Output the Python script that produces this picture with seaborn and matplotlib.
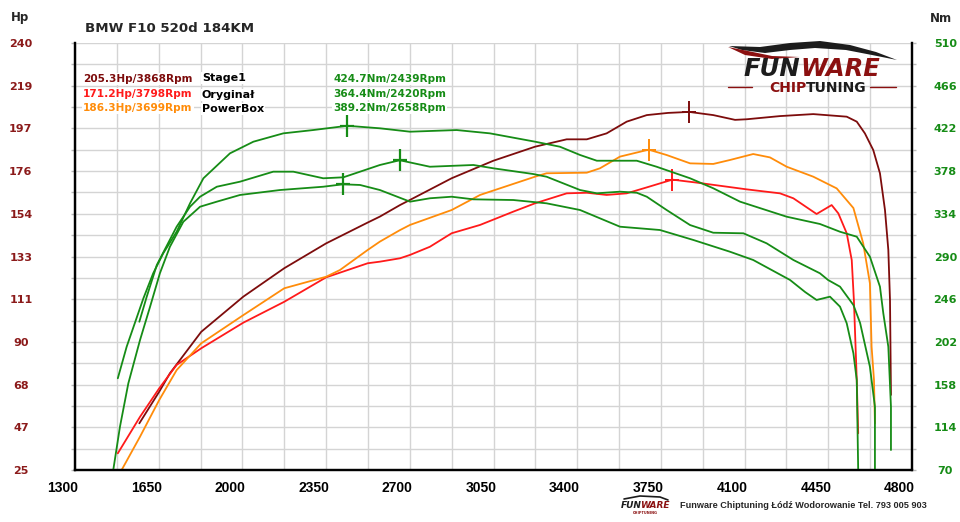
import matplotlib
matplotlib.use("Agg")
import matplotlib.pyplot as plt
import matplotlib.transforms as mtransforms
from matplotlib import font_manager
from matplotlib.path import Path
from matplotlib.patches import Polygon
import seaborn as sns

# ---- values (rpm / Hp / Nm) ----
s1_hp_rpm = [1569, 1652, 1697, 1828, 2004, 2175, 2350, 2524, 2575, 2659, 2701, 2875, 3049, 3224,
             3356, 3440, 3523, 3607, 3691, 3780, 3868, 3969, 4060, 4109, 4248, 4387, 4527, 4569,
             4603, 4638, 4666, 4687, 4701, 4708, 4712]
s1_hp = [48.5, 64.4, 73.7, 94.6, 112.3, 126.6, 139.1, 149.6, 152.6, 158.4, 161.0, 171.9, 180.7, 187.8,
         191.5, 191.5, 194.5, 200.4, 203.7, 204.8, 205.3, 203.7, 201.3, 201.6, 203.2, 204.2, 202.9, 200.4,
         194.5, 186.1, 174.4, 155.9, 135.8, 110.6, 62.8]

org_hp_rpm = [1479, 1572, 1652, 1725, 1828, 2004, 2175, 2350, 2524, 2575, 2659, 2701, 2784, 2875,
              2994, 3133, 3224, 3356, 3440, 3523, 3607, 3691, 3798, 3900, 4109, 4248, 4304, 4401,
              4464, 4492, 4527, 4548, 4557, 4569, 4575]
org_hp = [33.4, 51.8, 66.1, 77.9, 86.3, 99.2, 109.7, 122.0, 129.1, 129.9, 131.6, 133.3, 137.4, 144.2,
          148.4, 155.1, 159.3, 164.3, 164.6, 163.5, 164.3, 167.3, 171.2, 169.7, 166.3, 164.3, 161.8, 153.9,
          158.4, 154.2, 144.2, 130.7, 110.6, 70.3, 43.5]

pb_hp_rpm = [1495, 1572, 1652, 1725, 1828, 2004, 2175, 2350, 2408, 2524, 2575, 2659, 2701, 2875,
             2994, 3224, 3272, 3440, 3495, 3579, 3699, 3774, 3872, 3969, 4039, 4136, 4206, 4276,
             4387, 4485, 4555, 4596, 4624, 4631, 4641, 4645]
pb_hp = [25.0, 41.8, 60.2, 75.3, 88.8, 103.0, 116.5, 122.3, 125.7, 135.8, 140.0, 145.8, 148.4, 155.9,
         163.5, 172.7, 174.4, 174.7, 176.9, 182.8, 186.3, 183.6, 179.4, 179.1, 181.1, 184.1, 182.4, 177.7,
         172.7, 166.8, 156.9, 139.1, 119.0, 87.1, 70.3, 48.5]

s1_nm_rpm = [1479, 1516, 1586, 1627, 1669, 1725, 1781, 1837, 1948, 2046, 2171, 2296, 2439, 2575,
             2701, 2896, 3035, 3224, 3328, 3412, 3482, 3649, 3732, 3872, 3969, 4081, 4276, 4415,
             4499, 4569, 4624, 4666, 4680, 4701, 4712, 4712]
s1_nm = [164.5, 197.0, 246.9, 272.7, 293.3, 315.5, 344.8, 370.6, 396.3, 408.3, 416.9, 420.3, 424.7, 422.1,
         418.6, 420.3, 416.9, 408.3, 403.1, 394.6, 388.7, 388.7, 382.5, 370.6, 360.3, 346.5, 331.0, 323.5,
         315.5, 310.4, 289.8, 258.9, 231.5, 197.0, 135.2, 90.6]

org_nm_rpm = [1460, 1488, 1523, 1572, 1614, 1655, 1697, 1753, 1823, 1893, 1990, 2157, 2338, 2420,
              2492, 2575, 2701, 2784, 2875, 2966, 3133, 3272, 3412, 3579, 3746, 3886, 4039, 4136,
              4290, 4353, 4401, 4457, 4499, 4527, 4555, 4569, 4575]
org_nm = [70.0, 114.6, 159.3, 204.0, 238.3, 272.7, 300.1, 325.8, 341.3, 346.5, 353.4, 358.5, 361.9, 364.4,
          363.7, 358.5, 346.5, 350.0, 351.6, 348.9, 348.2, 344.8, 337.9, 320.7, 317.3, 307.0, 294.9, 286.4,
          265.8, 253.4, 245.2, 248.6, 238.3, 221.2, 190.2, 162.7, 70.0]

pb_nm_rpm = [1569, 1600, 1642, 1725, 1781, 1823, 1893, 1990, 2129, 2213, 2338, 2422, 2492, 2575,
             2658, 2784, 2966, 3049, 3216, 3272, 3412, 3482, 3579, 3649, 3691, 3774, 3872, 3969,
             4095, 4192, 4304, 4415, 4449, 4499, 4555, 4583, 4624, 4645, 4645]
pb_nm = [222.8, 248.6, 281.2, 320.7, 341.3, 351.6, 361.9, 367.1, 377.4, 377.4, 370.6, 371.6, 377.4, 384.3,
         389.2, 382.5, 384.3, 380.9, 375.0, 372.2, 358.5, 355.1, 356.8, 355.7, 351.6, 337.9, 322.4, 314.5,
         313.9, 303.6, 286.4, 272.7, 265.8, 258.9, 240.0, 221.5, 176.4, 135.2, 70.0]

# peaks shown with crosses and in the legend block
peak_names = ["Stage1", "Oryginał", "PowerBox"]
peak_hp = [205.3, 171.2, 186.3]
peak_hp_rpm = [3868, 3798, 3699]
peak_nm = [424.7, 364.4, 389.2]
peak_nm_rpm = [2439, 2420, 2658]

x_ticks = list(range(1300, 4801, 350))
hp_tick_labels = ["25", "47", "68", "90", "111", "133", "154", "176", "197", "219", "240"]
nm_tick_labels = ["70", "114", "158", "202", "246", "290", "334", "378", "422", "466", "510"]

DARK_RED = "#7d0c0c"
RED = "#ff1a1a"
ORANGE = "#ff8c0a"
GREEN = "#168c16"
HP_LBL = "#8b1a1a"
LOGO_RED = "#8b1010"
LOGO_BLK = "#1c1c1c"

sns.set_style("white")
plt.rcParams["font.family"] = ["DejaVu Sans"]
names = {f.name for f in font_manager.fontManager.ttflist}
narrow = "Liberation Sans Narrow" if "Liberation Sans Narrow" in names else "Liberation Sans"

W, H = 960, 522
fig = plt.figure(figsize=(W / 100, H / 100), dpi=100)


def fx(x):
    return x / W


def fy(y):
    return 1 - y / H


ax = fig.add_axes([fx(75), fy(470), (912 - 75) / W, (470 - 43) / H])
ax2 = ax.twinx()

ax.set_xlim(1300, 4800)
ax.set_ylim(25, 240)
ax2.set_ylim(70, 510)

ax.set_xticks(x_ticks)
ax.set_xticks(list(range(1475, 4800, 350)), minor=True)
ax.set_yticks([25 + 21.5 * i for i in range(11)])
ax.set_yticks([25 + 10.75 * i for i in range(1, 20, 2)], minor=True)
ax.set_yticklabels(hp_tick_labels)
ax2.set_yticks([70 + 44 * i for i in range(11)])
ax2.set_yticks([70 + 22 * i for i in range(1, 20, 2)], minor=True)
ax2.set_yticklabels(nm_tick_labels)

ax.grid(True, which="both", color="#d4d4d4", lw=1.0)
ax.set_axisbelow(True)
ax2.grid(False)

for a in (ax, ax2):
    a.spines["top"].set_visible(False)
    for s in ("left", "right", "bottom"):
        a.spines[s].set_color("black")
        a.spines[s].set_linewidth(1.6)

ax.tick_params(axis="x", which="both", direction="out", length=4, width=1, color="#888888",
               pad=4, labelsize=10, labelcolor="black")
ax.tick_params(axis="y", which="both", direction="out", length=3, width=1, color="#bbbbbb",
               pad=36, labelsize=8, labelcolor=HP_LBL)
ax2.tick_params(axis="y", which="both", direction="out", length=3, width=1, color="#bbbbbb",
                pad=21, labelsize=8, labelcolor=GREEN)
shift = mtransforms.ScaledTranslation(-9 / 72, 0, fig.dpi_scale_trans)
for lab in ax.get_xticklabels():
    lab.set_fontfamily(narrow)
    lab.set_fontweight("bold")
    lab.set_transform(lab.get_transform() + shift)
for lab in ax.get_yticklabels() + ax2.get_yticklabels():
    lab.set_fontweight("bold")
    lab.set_horizontalalignment("center")

# torque curves (right axis) and power curves (left axis)
lw = 1.3
sns.lineplot(x=s1_nm_rpm, y=s1_nm, ax=ax2, color=GREEN, lw=lw, estimator=None, sort=False)
sns.lineplot(x=org_nm_rpm, y=org_nm, ax=ax2, color=GREEN, lw=lw, estimator=None, sort=False)
sns.lineplot(x=pb_nm_rpm, y=pb_nm, ax=ax2, color=GREEN, lw=lw, estimator=None, sort=False)
sns.lineplot(x=s1_hp_rpm, y=s1_hp, ax=ax, color=DARK_RED, lw=lw, estimator=None, sort=False)
sns.lineplot(x=org_hp_rpm, y=org_hp, ax=ax, color=RED, lw=lw, estimator=None, sort=False)
sns.lineplot(x=pb_hp_rpm, y=pb_hp, ax=ax, color=ORANGE, lw=lw, estimator=None, sort=False)
ax.set_xlabel("")
ax.set_ylabel("")
ax2.set_ylabel("")

# peak crosses
cross = Path([(-0.65, 0), (0.65, 0), (0, -1), (0, 1)],
             [Path.MOVETO, Path.LINETO, Path.MOVETO, Path.LINETO])
for r, v, c in zip(peak_hp_rpm, peak_hp, [DARK_RED, RED, ORANGE]):
    ax.plot([r], [v], marker=cross, markersize=16, markeredgewidth=1.4, color=c, zorder=5)
for r, v in zip(peak_nm_rpm, peak_nm):
    ax2.plot([r], [v], marker=cross, markersize=16, markeredgewidth=1.6, color=GREEN, zorder=5)

# legend block
box = dict(facecolor="white", edgecolor="none", pad=1.0)
hp_cols = [DARK_RED, RED, ORANGE]
rows_y = [79, 94, 108]
name_y = [78, 95, 109]
for i in range(3):
    fig.text(fx(83), fy(rows_y[i]), f"{peak_hp[i]}Hp/{peak_hp_rpm[i]}Rpm", color=hp_cols[i],
             fontsize=7.6, fontweight="bold", va="center", ha="left", bbox=box)
    fig.text(fx(202), fy(name_y[i]), peak_names[i], color="black",
             fontsize=8, fontweight="bold", va="center", ha="left", bbox=box)
    fig.text(fx(333), fy(rows_y[i]), f"{peak_nm[i]}Nm/{peak_nm_rpm[i]}Rpm", color=GREEN,
             fontsize=7.6, fontweight="bold", va="center", ha="left", bbox=box)

fig.text(fx(85), fy(28), "BMW F10 520d 184KM", fontsize=9.6, fontweight="bold", va="center", ha="left")
fig.text(fx(20), fy(17), "Hp", fontsize=8.5, fontweight="bold", va="center", ha="center")
fig.text(fx(941), fy(19), "Nm", fontsize=8.5, fontweight="bold", va="center", ha="center")

# logo top right
car = Polygon([(fx(a), fy(b)) for a, b in [(729, 46), (760, 47), (790, 43), (820, 41), (850, 45),
                                           (876, 52), (897, 60), (872, 55), (846, 50), (815, 48),
                                           (790, 50), (765, 53), (742, 50)]],
              closed=True, transform=fig.transFigure, facecolor=LOGO_BLK, edgecolor="none")
swoosh = Polygon([(fx(a), fy(b)) for a, b in [(728, 47), (748, 51), (772, 56), (800, 57),
                                              (772, 59), (745, 55)]],
                 closed=True, transform=fig.transFigure, facecolor=LOGO_RED, edgecolor="none")
fig.patches.extend([car, swoosh])
fig.text(fx(800), fy(76.5), "FUN", fontsize=17.5, fontweight="bold", style="italic", color=LOGO_BLK,
         va="baseline", ha="right")
fig.text(fx(800), fy(76.5), "WARE", fontsize=17.5, fontweight="bold", style="italic", color=LOGO_RED,
         va="baseline", ha="left")
fig.text(fx(806), fy(92.5), "CHIP", fontsize=10, fontweight="bold", color=LOGO_RED, va="baseline",
         ha="right")
fig.text(fx(806), fy(92.5), "TUNING", fontsize=10, fontweight="bold", color=LOGO_BLK, va="baseline",
         ha="left")
for x0, x1 in [(728, 752), (870, 896)]:
    fig.add_artist(plt.Line2D([fx(x0), fx(x1)], [fy(87), fy(87)], color=LOGO_RED, lw=1))

# footer
fig.text(fx(621), fy(505), "FUN", fontsize=6.5, fontweight="bold", style="italic", color=LOGO_BLK,
         va="center", ha="left")
fig.text(fx(640), fy(505), "WARE", fontsize=6.5, fontweight="bold", style="italic", color=LOGO_RED,
         va="center", ha="left")
fig.text(fx(645), fy(513), "CHIPTUNING", fontsize=2.5, fontweight="bold", color=LOGO_RED,
         va="center", ha="center")
fig.add_artist(plt.Line2D([fx(624), fx(640), fx(660), fx(668)], [fy(499), fy(496), fy(497), fy(500)],
                          color=LOGO_BLK, lw=1.2))
fig.text(fx(680), fy(506), "Funware Chiptuning Łódź Wodorowanie Tel. 793 005 903", fontsize=6.6,
         fontweight="bold", family=[narrow, "DejaVu Sans"], va="center", ha="left")

fig.savefig("out.png", dpi=100)
